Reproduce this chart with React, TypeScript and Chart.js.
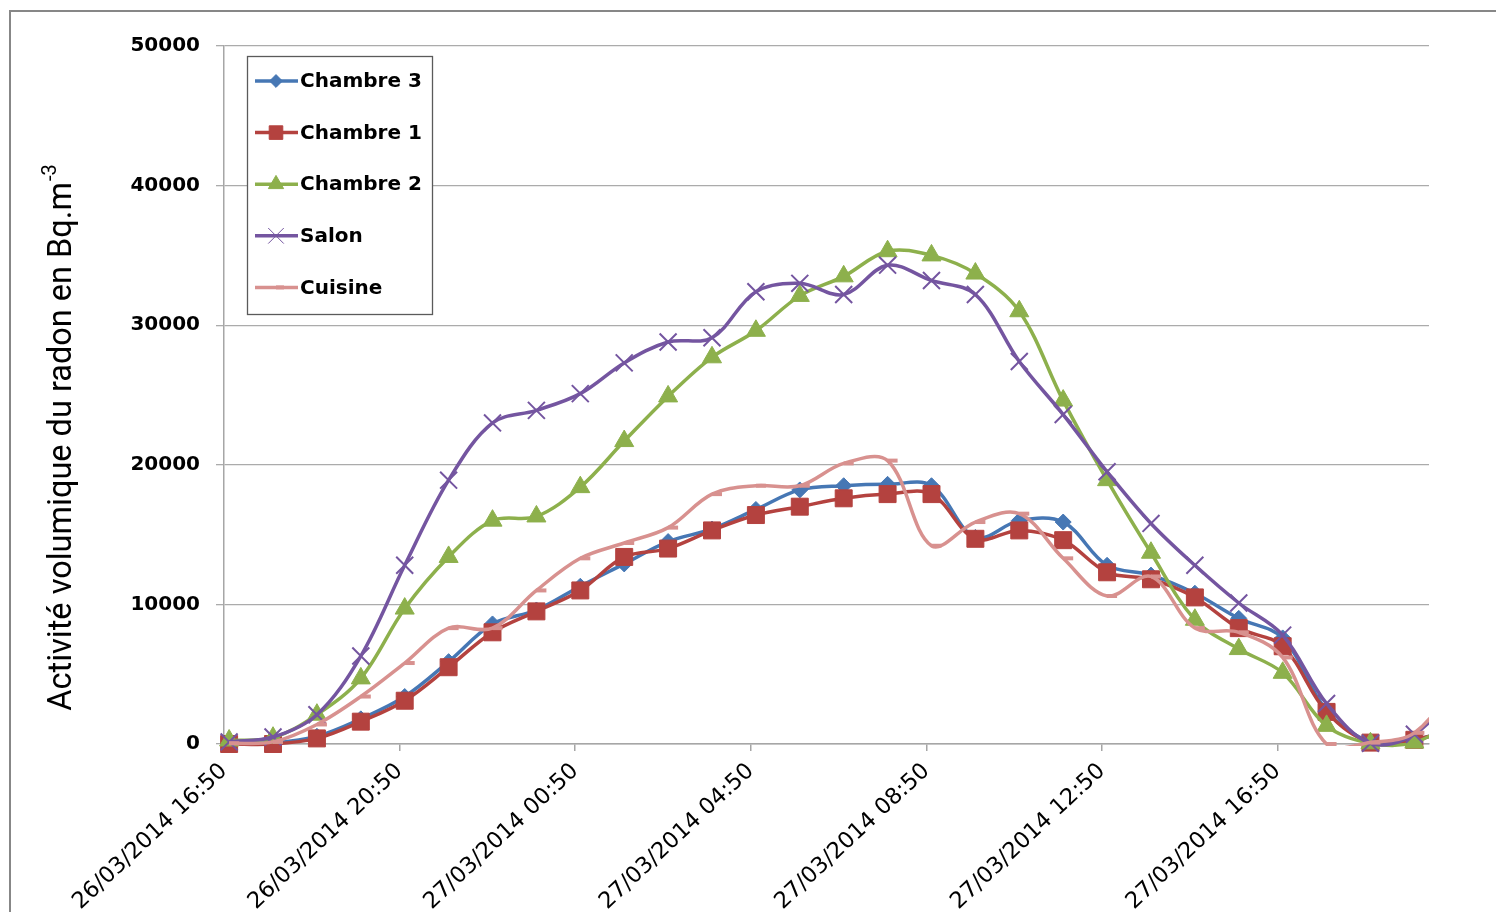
import React, { useEffect, useRef } from "react";
import { Chart, registerables } from "chart.js";

Chart.register(...registerables);

// ---- Data ----
const AXIS_START = "26/03/2014 16:50";
const AXIS_END = "27/03/2014 20:17";

const TICK_LABELS = [
  "26/03/2014 16:50",
  "26/03/2014 20:50",
  "27/03/2014 00:50",
  "27/03/2014 04:50",
  "27/03/2014 08:50",
  "27/03/2014 12:50",
  "27/03/2014 16:50",
];

const SAMPLE_TIMES = [
  "26/03/2014 16:57", "26/03/2014 17:57", "26/03/2014 18:57", "26/03/2014 19:57",
  "26/03/2014 20:57", "26/03/2014 21:57", "26/03/2014 22:57", "26/03/2014 23:57",
  "27/03/2014 00:57", "27/03/2014 01:57", "27/03/2014 02:57", "27/03/2014 03:57",
  "27/03/2014 04:57", "27/03/2014 05:57", "27/03/2014 06:57", "27/03/2014 07:57",
  "27/03/2014 08:57", "27/03/2014 09:57", "27/03/2014 10:57", "27/03/2014 11:57",
  "27/03/2014 12:57", "27/03/2014 13:57", "27/03/2014 14:57", "27/03/2014 15:57",
  "27/03/2014 16:57", "27/03/2014 17:57", "27/03/2014 18:57", "27/03/2014 19:57",
  "27/03/2014 20:57",
];

const CHAMBRE_3 = [50, 100, 550, 1800, 3400, 5900, 8600, 9600, 11300, 12900, 14500, 15400, 16800, 18200, 18500, 18600, 18500, 14800, 16000, 15900, 12800, 12100, 10800, 9000, 7600, 2400, 150, 300, 1200];
const CHAMBRE_1 = [0, 0, 400, 1600, 3100, 5500, 8000, 9500, 11000, 13400, 14000, 15300, 16400, 17000, 17600, 17900, 17900, 14700, 15300, 14600, 12300, 11800, 10500, 8300, 7000, 2300, 100, 300, 1200];
const CHAMBRE_2 = [250, 450, 2100, 4700, 9700, 13400, 16000, 16300, 18400, 21700, 24900, 27700, 29600, 32100, 33500, 35300, 35000, 33700, 31000, 24600, 18900, 13700, 8900, 6800, 5100, 1300, 50, 100, 1800];
const SALON = [150, 500, 2100, 6300, 12800, 18900, 23000, 23900, 25100, 27300, 28800, 29100, 32400, 33000, 32200, 34300, 33200, 32200, 27400, 23600, 19500, 15800, 12800, 10100, 7800, 2900, 50, 700, 4000];
const CUISINE = [50, 150, 1400, 3400, 5800, 8300, 8300, 11000, 13300, 14400, 15500, 17900, 18500, 18500, 20100, 20300, 14200, 15900, 16500, 13300, 10600, 12000, 8300, 8000, 6200, 0, 100, 800, 4500];

const Y_MIN = 0;
const Y_MAX = 50000;
const Y_STEP = 10000;

const Y_TITLE = "Activité volumique du radon en Bq.m";
const Y_TITLE_SUP = "-3";

// ---- helpers ----
function toHours(s: string): number {
  const [date, time] = s.split(" ");
  const [d, mo, y] = date.split("/").map(Number);
  const [h, mi] = time.split(":").map(Number);
  return Date.UTC(y, mo - 1, d, h, mi) / 3600000;
}
const T0 = toHours(AXIS_START);
const rel = (s: string) => toHours(s) - T0;
const X_VALUES = SAMPLE_TIMES.map(rel);
const TICK_VALUES = TICK_LABELS.map(rel);
const X_MAX = rel(AXIS_END);

const SERIES = [
  { label: "Chambre 3", values: CHAMBRE_3, color: "#4677B4", style: "rectRot", radius: 8, pbw: 1, clipBottom: 20 },
  { label: "Chambre 1", values: CHAMBRE_1, color: "#B4423F", style: "rect", radius: 12, pbw: 1, clipBottom: 20 },
  { label: "Chambre 2", values: CHAMBRE_2, color: "#8DB04C", style: "triangle", radius: 11, pbw: 1, clipBottom: 20 },
  { label: "Salon", values: SALON, color: "#7455A0", style: "crossRot", radius: 12, pbw: 2, clipBottom: 20 },
  { label: "Cuisine", values: CUISINE, color: "#D8918F", style: "dash", radius: 10, pbw: 4, clipBottom: 2 },
];

function drawMarker(ctx: CanvasRenderingContext2D, style: string, x: number, y: number, r: number, color: string, bw: number) {
  ctx.save();
  ctx.fillStyle = color;
  ctx.strokeStyle = color;
  ctx.lineWidth = bw;
  ctx.beginPath();
  if (style === "rectRot") {
    ctx.moveTo(x, y - r); ctx.lineTo(x + r, y); ctx.lineTo(x, y + r); ctx.lineTo(x - r, y); ctx.closePath();
    ctx.fill(); ctx.stroke();
  } else if (style === "rect") {
    const s = r * Math.SQRT1_2;
    ctx.rect(x - s, y - s, 2 * s, 2 * s);
    ctx.fill(); ctx.stroke();
  } else if (style === "triangle") {
    ctx.moveTo(x, y - r); ctx.lineTo(x + 0.866 * r, y + 0.5 * r); ctx.lineTo(x - 0.866 * r, y + 0.5 * r); ctx.closePath();
    ctx.fill(); ctx.stroke();
  } else if (style === "crossRot") {
    const c = r * Math.SQRT1_2;
    ctx.moveTo(x - c, y - c); ctx.lineTo(x + c, y + c);
    ctx.moveTo(x - c, y + c); ctx.lineTo(x + c, y - c);
    ctx.stroke();
  } else if (style === "dash") {
    ctx.moveTo(x, y); ctx.lineTo(x + r, y);
    ctx.stroke();
  }
  ctx.restore();
}

const legendPlugin = {
  id: "boxLegend",
  afterDraw(chart: any) {
    const ctx: CanvasRenderingContext2D = chart.ctx;
    const bx = 247.5, by = 56.5, bw = 185, bh = 258;
    ctx.save();
    ctx.fillStyle = "#ffffff";
    ctx.fillRect(bx, by, bw, bh);
    ctx.strokeStyle = "#5a5a5a";
    ctx.lineWidth = 1.3;
    ctx.strokeRect(bx, by, bw, bh);
    SERIES.forEach((s, k) => {
      const y = 81 + k * 51.6;
      ctx.strokeStyle = s.color;
      ctx.lineWidth = 3.5;
      ctx.beginPath();
      ctx.moveTo(255, y);
      ctx.lineTo(298, y);
      ctx.stroke();
      drawMarker(ctx, s.style, 276, y, s.style === "crossRot" ? 11 : s.radius * 0.8, s.color, s.style === "crossRot" ? 1 : s.pbw);
      ctx.fillStyle = "#000";
      ctx.font = "bold 20px 'DejaVu Sans'";
      ctx.textAlign = "left";
      ctx.textBaseline = "middle";
      ctx.fillText(s.label, 300, y + 1);
    });
    ctx.restore();
  },
};

const yTitlePlugin = {
  id: "yTitleSup",
  afterDraw(chart: any) {
    const ctx: CanvasRenderingContext2D = chart.ctx;
    ctx.save();
    ctx.translate(63, 438);
    ctx.rotate(-Math.PI / 2);
    ctx.fillStyle = "#000";
    ctx.textBaseline = "middle";
    ctx.textAlign = "left";
    const mainFont = "32.5px Roboto";
    const supFont = "20px Roboto";
    ctx.font = mainFont;
    const w1 = ctx.measureText(Y_TITLE).width;
    ctx.font = supFont;
    const w2 = ctx.measureText(Y_TITLE_SUP).width;
    const start = -(w1 + w2) / 2;
    ctx.font = mainFont;
    ctx.fillText(Y_TITLE, start, 0);
    ctx.font = supFont;
    ctx.fillText(Y_TITLE_SUP, start + w1 + 1, -12);
    ctx.restore();
  },
};

export default function App() {
  const ref = useRef<HTMLCanvasElement | null>(null);

  useEffect(() => {
    if (!ref.current) return;
    const n = SERIES.length;
    const chart = new Chart(ref.current, {
      type: "line",
      data: {
        datasets: SERIES.map((s, i) => ({
          label: s.label,
          data: s.values.map((v, j) => ({ x: X_VALUES[j], y: v })),
          borderColor: s.color,
          backgroundColor: s.color,
          pointBackgroundColor: s.color,
          pointBorderColor: s.color,
          pointStyle: s.style as any,
          pointRadius: s.radius,
          pointBorderWidth: s.pbw,
          borderWidth: 3.5,
          tension: 0.35,
          order: n - 1 - i,
          clip: { left: 16, right: 0, top: 20, bottom: s.clipBottom } as any,
        })),
      },
      options: {
        responsive: false,
        animation: false,
        events: [],
        elements: { line: { capBezierPoints: false } },
        layout: { padding: { left: 0, right: 67, top: 46, bottom: 0 } },
        plugins: {
          legend: { display: false },
          tooltip: { enabled: false },
          title: { display: false },
        },
        scales: {
          x: {
            type: "linear",
            min: 0,
            max: X_MAX,
            afterBuildTicks: (sc: any) => {
              sc.ticks = TICK_VALUES.map((v) => ({ value: v }));
            },
            afterFit: (sc: any) => {
              sc.height = 168;
            },
            grid: { drawOnChartArea: false, drawTicks: true, tickLength: 7, color: "#A6A6A6", lineWidth: 1.5 },
            border: { display: true, color: "#A6A6A6", width: 1.5 },
            ticks: {
              autoSkip: false,
              maxRotation: 43,
              minRotation: 43,
              padding: 7,
              color: "#000",
              font: { family: "'DejaVu Sans'", size: 22.5 },
              callback: (v: any) => {
                const k = TICK_VALUES.findIndex((t) => Math.abs(t - Number(v)) < 1e-6);
                return k >= 0 ? TICK_LABELS[k] : "";
              },
            },
          },
          y: {
            min: Y_MIN,
            max: Y_MAX,
            afterFit: (sc: any) => {
              sc.width = 224;
            },
            grid: { color: "#ABABAB", lineWidth: 1.3, tickLength: 8 },
            border: { display: true, color: "#A6A6A6", width: 1.5 },
            ticks: {
              stepSize: Y_STEP,
              padding: 16,
              color: "#000",
              font: { family: "'DejaVu Sans'", weight: "bold", size: 20 },
              callback: (v: any) => String(v),
            },
          },
        },
      },
      plugins: [legendPlugin, yTitlePlugin],
    });
    return () => chart.destroy();
  }, []);

  return (
    <div style={{ position: "absolute", left: 0, top: 0, width: 1496, height: 912, background: "#fff", overflow: "hidden" }}>
      <div
        style={{
          position: "absolute",
          left: 9,
          top: 10,
          width: 1500,
          height: 920,
          borderLeft: "2px solid #878787",
          borderTop: "2px solid #878787",
        }}
      />
      <canvas ref={ref} width={1496} height={912} style={{ position: "absolute", left: 0, top: 0, width: 1496, height: 912 }} />
    </div>
  );
}
